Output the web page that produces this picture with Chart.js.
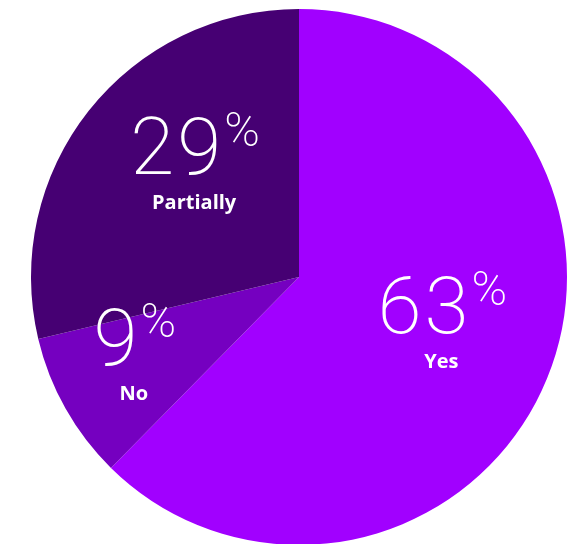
<!DOCTYPE html>
<html>
<head>
<meta charset="utf-8">
<script src="https://cdn.jsdelivr.net/npm/chart.js@4"></script>
<style>
  html, body { margin: 0; padding: 0; background: #ffffff; overflow: hidden; }
  body { width: 581px; height: 544px; position: relative; }
  #wrap { position: absolute; left: 31px; top: 9px; width: 536px; height: 536px; }
</style>
</head>
<body>
<div id="wrap"><canvas id="pieChart" width="536" height="536"></canvas></div>
<script>
const categories = ['Yes', 'No', 'Partially'];
const shares = [63, 9, 29];
const sliceColors = ['#A100FF', '#7500C0', '#460073'];

// nudges for the text blocks, relative to a point on the slice's middle angle
const labelNudge = [[2, -2], [-31, 13], [16, -8]];

const bigFont = '200 80px Roboto, "Open Sans", sans-serif';
const pctFont = '200 48px Roboto, "Open Sans", sans-serif';
const catFont = 'bold 20px "Open Sans", Roboto, sans-serif';

const pieLabels = {
  id: 'pieLabels',
  afterDatasetsDraw(chart) {
    const ctx = chart.ctx;
    const meta = chart.getDatasetMeta(0);
    meta.data.forEach((arc, i) => {
      const p = arc.getProps(['x', 'y', 'startAngle', 'endAngle', 'outerRadius'], true);
      const mid = (p.startAngle + p.endAngle) / 2;
      const r = p.outerRadius * 0.57;
      const cx = p.x + Math.cos(mid) * r + labelNudge[i][0];
      const cy = p.y + Math.sin(mid) * r + labelNudge[i][1];

      const num = String(shares[i]);
      ctx.save();
      ctx.fillStyle = '#ffffff';
      ctx.textBaseline = 'alphabetic';
      ctx.textAlign = 'left';

      ctx.font = bigFont;
      ctx.letterSpacing = '3px';
      const wNum = ctx.measureText(num).width;
      ctx.font = pctFont;
      ctx.letterSpacing = '0px';
      const wPct = ctx.measureText('%').width;
      const x0 = cx - (wNum + wPct) / 2;

      ctx.font = bigFont;
      ctx.letterSpacing = '3px';
      ctx.fillText(num, x0, cy);
      ctx.letterSpacing = '0px';
      ctx.font = pctFont;
      ctx.fillText('%', x0 + wNum, cy - 28);

      ctx.textAlign = 'center';
      ctx.font = catFont;
      ctx.fillText(categories[i], cx - 1, cy + 35);
      ctx.restore();
    });
  }
};

new Chart(document.getElementById('pieChart'), {
  type: 'pie',
  data: {
    labels: categories,
    datasets: [{
      data: shares,
      backgroundColor: sliceColors,
      borderWidth: 0,
      hoverOffset: 0
    }]
  },
  options: {
    responsive: false,
    animation: false,
    events: [],
    layout: { padding: 0 },
    plugins: {
      legend: { display: false },
      tooltip: { enabled: false }
    }
  },
  plugins: [pieLabels]
});
</script>
</body>
</html>
